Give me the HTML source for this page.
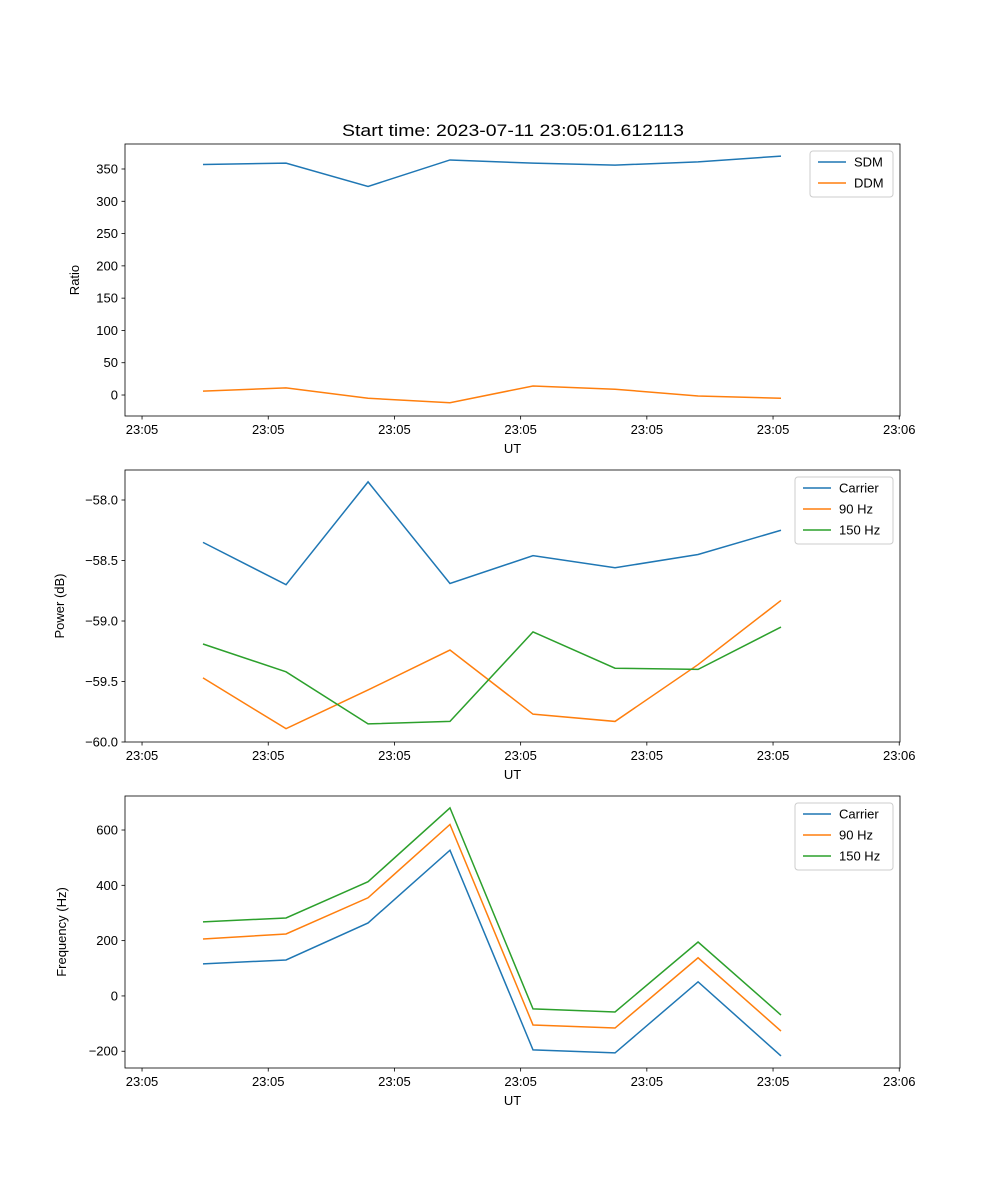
<!DOCTYPE html>
<html><head><meta charset="utf-8"><style>
body{margin:0;background:#fff;}
svg{display:block;font-family:"Liberation Sans","DejaVu Sans",sans-serif;}
</style></head><body>
<svg id="fig" width="1000" height="1200"></svg>
<script>
const xTimes=[0.483,1.141,1.791,2.44,3.098,3.748,4.406,5.063];
const xTickVals=[0,1,2,3,4,5,6];
const xTickLabels=["23:05","23:05","23:05","23:05","23:05","23:05","23:06"];
const sdm=[357,359,323,364,359,356,361,370];
const ddm=[6,11,-5,-12,14,9,-1.5,-5];
const ratioTicks=[0,50,100,150,200,250,300,350];
const pwrCarrier=[-58.35,-58.70,-57.85,-58.69,-58.46,-58.56,-58.45,-58.25];
const pwr90=[-59.47,-59.89,-59.57,-59.24,-59.77,-59.83,-59.36,-58.83];
const pwr150=[-59.19,-59.42,-59.85,-59.83,-59.09,-59.39,-59.40,-59.05];
const pwrTicks=[-60.0,-59.5,-59.0,-58.5,-58.0];
const frqCarrier=[116,130,264,527,-195,-206,51,-217];
const frq90=[206,224,355,620,-105,-116,138,-127];
const frq150=[268,282,413,680,-47,-58,195,-69];
const frqTicks=[-200,0,200,400,600];

const NS="http://www.w3.org/2000/svg";
const svg=document.getElementById('fig');
function mk(tag,attrs,parent){const e=document.createElementNS(NS,tag);for(const k in attrs)e.setAttribute(k,attrs[k]);(parent||svg).appendChild(e);return e;}
const L=125,R=900,X0=-0.135,X1=6.006;
const xs=v=>L+(v-X0)/(X1-X0)*(R-L);
const C=['#1f77b4','#ff7f0e','#2ca02c'];

function panel(name,top,bot,y0,y1,ticks,fmt,ylabel,ylx,series,names,legX){
  const ys=v=>bot-(v-y0)/(y1-y0)*(bot-top);
  const g=mk('g',{});
  
  
  series.forEach((s,i)=>{
    const p=mk('polyline',{points:s.map((v,j)=>xs(xTimes[j])+','+ys(v)).join(' '),fill:'none',stroke:C[i],'stroke-width':1.5},g);
    
    
  });
  const fr=mk('rect',{x:L,y:top,width:R-L,height:bot-top,fill:'none',stroke:'#000','stroke-width':0.8},g);
  
  
  xTickVals.forEach((v,i)=>{
    const x=xs(v);
    mk('line',{x1:x,x2:x,y1:bot,y2:bot+3.5,stroke:'#000','stroke-width':0.8},g);
    const t=mk('text',{x:x,y:bot+18,'font-size':13,'text-anchor':'middle'},g);
    t.textContent=xTickLabels[i];
    
    
  });
  ticks.forEach(v=>{
    const y=ys(v);
    mk('line',{x1:L-3.5,x2:L,y1:y,y2:y,stroke:'#000','stroke-width':0.8},g);
    const t=mk('text',{x:L-7,y:y+4.5,'font-size':13,'text-anchor':'end'},g);
    t.textContent=fmt(v);
    
    
  });
  const xl=mk('text',{x:(L+R)/2,y:bot+37,'font-size':13,'text-anchor':'middle'},g);
  xl.textContent='UT';
  
  
  const yc=(top+bot)/2;
  const yl=mk('text',{x:ylx,y:yc,'font-size':13,'text-anchor':'middle',transform:`rotate(-90 ${ylx} ${yc})`},g);
  yl.textContent=ylabel;
  
  
  const lg=mk('g',{},g);
  
  
  const h=names.length*21+4;
  mk('rect',{x:legX,y:top+7,width:893-legX,height:h,rx:3,fill:'#fff',stroke:'#ccc','stroke-width':1},lg);
  names.forEach((n,i)=>{
    const y=top+18+i*21;
    mk('line',{x1:legX+8,x2:legX+36,y1:y,y2:y,stroke:C[i],'stroke-width':1.5},lg);
    const t=mk('text',{x:legX+44,y:y+4.5,'font-size':13},lg);
    t.textContent=n;
    
    
  });
}
const title=mk('text',{x:342,y:136,'font-size':17,textLength:342,lengthAdjust:'spacingAndGlyphs'});
title.textContent='Start time: 2023-07-11 23:05:01.612113';



panel('ratio',144,416,-32.5,388.7,ratioTicks,v=>v.toString(),'Ratio',79,[sdm,ddm],['SDM','DDM'],810);
panel('power',470,742,-60.0,-57.752,pwrTicks,v=>(v<0?'\u2212':'')+Math.abs(v).toFixed(1),'Power (dB)',64,[pwrCarrier,pwr90,pwr150],['Carrier','90 Hz','150 Hz'],795);
panel('frequency',796,1068,-260.6,723,frqTicks,v=>(v<0?'\u2212':'')+Math.abs(v),'Frequency (Hz)',66,[frqCarrier,frq90,frq150],['Carrier','90 Hz','150 Hz'],795);
</script>
</body></html>
